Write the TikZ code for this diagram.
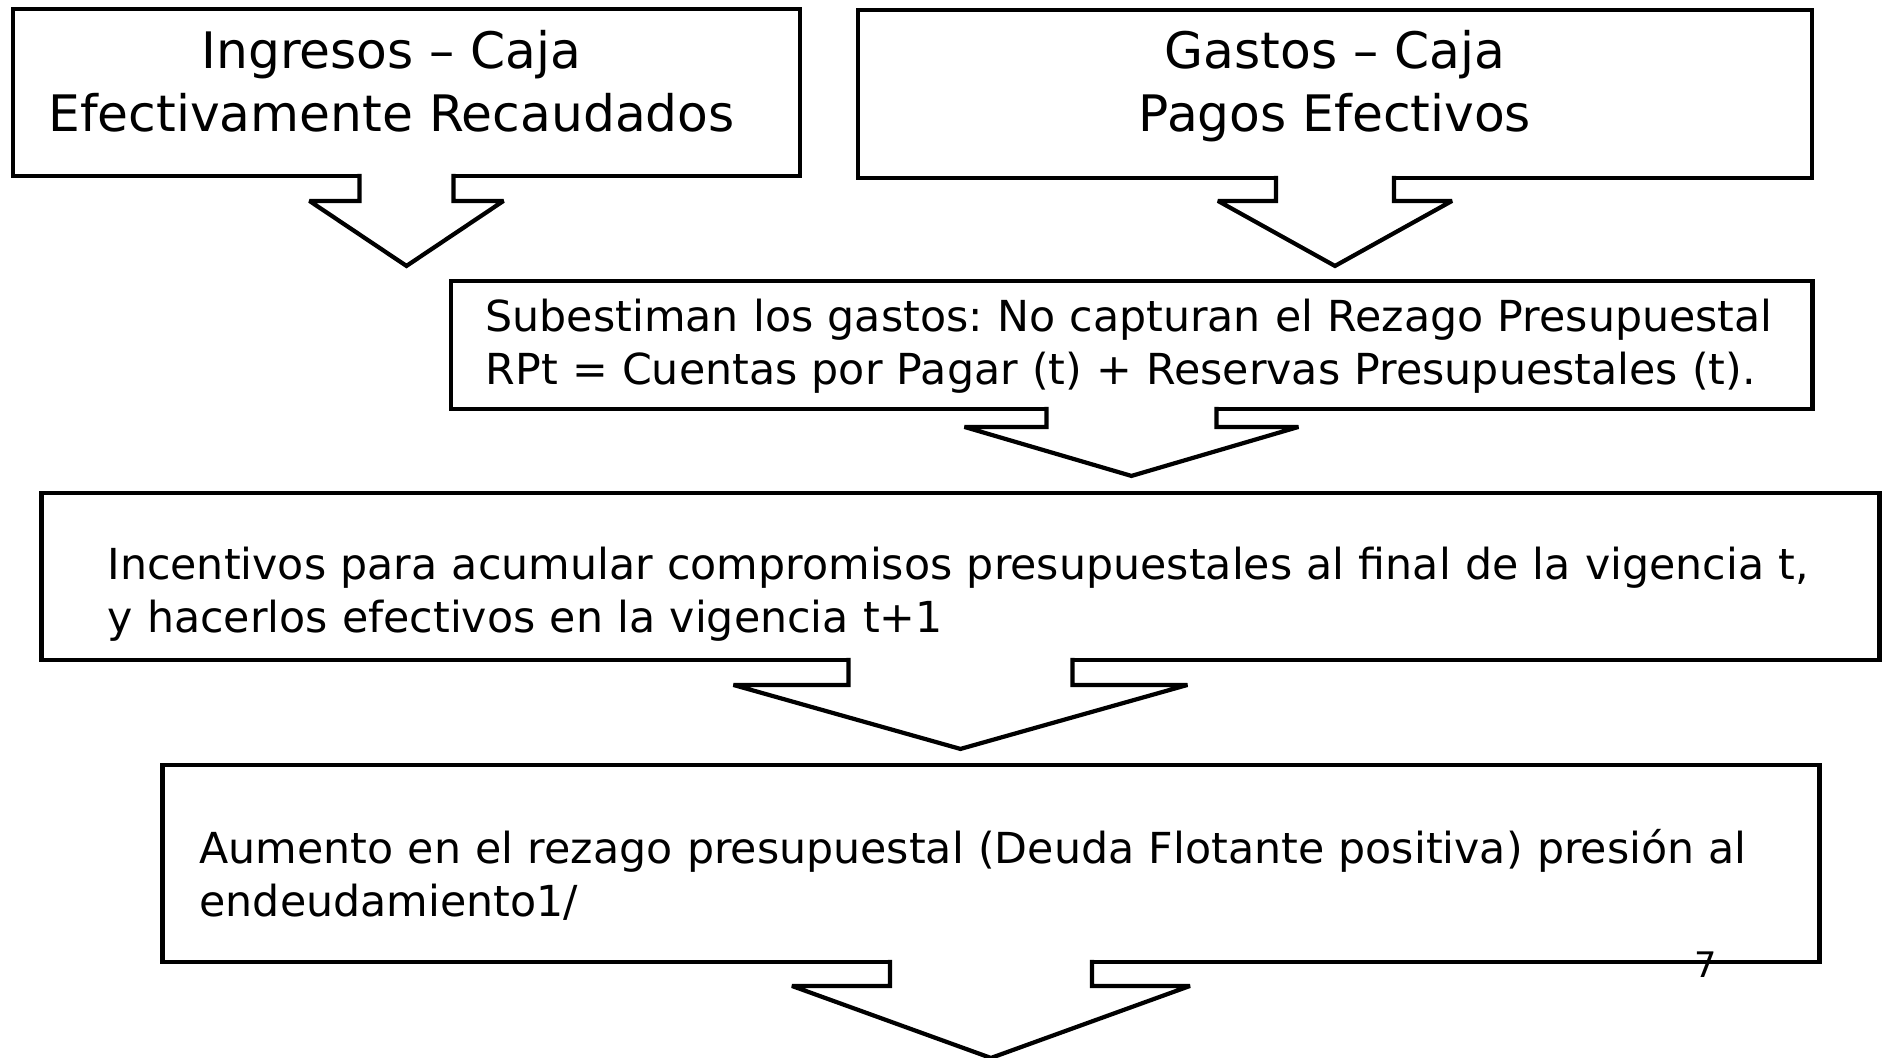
\documentclass[tikz,border=0pt]{standalone}
\usepackage{fontspec}
\setmainfont{DejaVu Sans}
\frenchspacing
\begin{document}
\begin{tikzpicture}[
x=0.01cm,
y=-0.01cm,
line width=1.2pt
]

\tikzstyle{caja} = [draw, shape=rectangle, inner sep=0pt, outer sep=0pt]
\tikzstyle{grande} = [font=\fontsize{14.3}{17.8}\selectfont, align=center]
\tikzstyle{texto} = [font=\fontsize{12.15}{15.1}\selectfont, align=left]
\tikzstyle{flecha} = [draw, fill=white, line join=miter, miter limit=3]

\useasboundingbox (0,0) rectangle (1885,1058);

% cajas
\node[caja, minimum width=7.87cm, minimum height=1.67cm] (ing) at (406.5,92.5) {};
\node[grande] (ingT) at ([xshift=-0.15cm,yshift=0.11cm]ing.center) {Ingresos -- Caja\\Efectivamente Recaudados};
\node[caja, minimum width=9.54cm, minimum height=1.68cm] (gas) at (1335,94) {};
\node[grande] (gasT) at ([yshift=0.08cm]gas.center) {Gastos -- Caja\\Pagos Efectivos};
\node[caja, minimum width=13.61cm, minimum height=1.28cm] (sub) at (1131.5,345) {};
\node[texto, text width=12.91cm] (subT) at ([yshift=-0.01cm]sub.center) {Subestiman los gastos: No capturan el Rezago Presupuestal\\RPt = Cuentas por Pagar (t) + Reservas Presupuestales (t).};
\node[caja, minimum width=18.37cm, minimum height=1.67cm] (inc) at (960.5,576.5) {};
\node[texto, text width=17.05cm] (incT) at ([yshift=-0.18cm]inc.center) {Incentivos para acumular compromisos presupuestales al final de la vigencia t,\\y hacerlos efectivos en la vigencia t+1};
\node[caja, minimum width=16.56cm, minimum height=1.97cm] (aum) at (991,863.5) {};
\node[texto, text width=15.82cm] (aumT) at ([yshift=-0.11cm]aum.center) {Aumento en el rezago presupuestal (Deuda Flotante positiva) presión al\\endeudamiento1/};

% flechas
\draw[flecha] ([xshift=-0.47cm,yshift=0.6pt]ing.south) -- ++(0,27) -- ++(-50,0) -- ++(97,65) -- ++(97,-65) -- ++(-50,0) -- ++(0,-27);
\draw[flecha] ([xshift=-0.59cm,yshift=0.6pt]gas.south) -- ++(0,25) -- ++(-58,0) -- ++(117,65) -- ++(117,-65) -- ++(-58,0) -- ++(0,-25);
\draw[flecha] ([xshift=-0.85cm,yshift=0.6pt]sub.south) -- ++(0,20) -- ++(-82,0) -- ++(167,49) -- ++(167,-49) -- ++(-82,0) -- ++(0,-20);
\draw[flecha] ([xshift=-1.12cm,yshift=0.6pt]inc.south) -- ++(0,27) -- ++(-115,0) -- ++(227,64) -- ++(227,-64) -- ++(-115,0) -- ++(0,-27);
\draw[flecha] ([xshift=-1.01cm,yshift=0.6pt]aum.south) -- ++(0,26) -- ++(-98,0) -- ++(199,72) -- ++(199,-72) -- ++(-98,0) -- ++(0,-26);

\node[font=\fontsize{10}{12}\selectfont] (num) at (1706,965) {7};
\end{tikzpicture}
\end{document}
